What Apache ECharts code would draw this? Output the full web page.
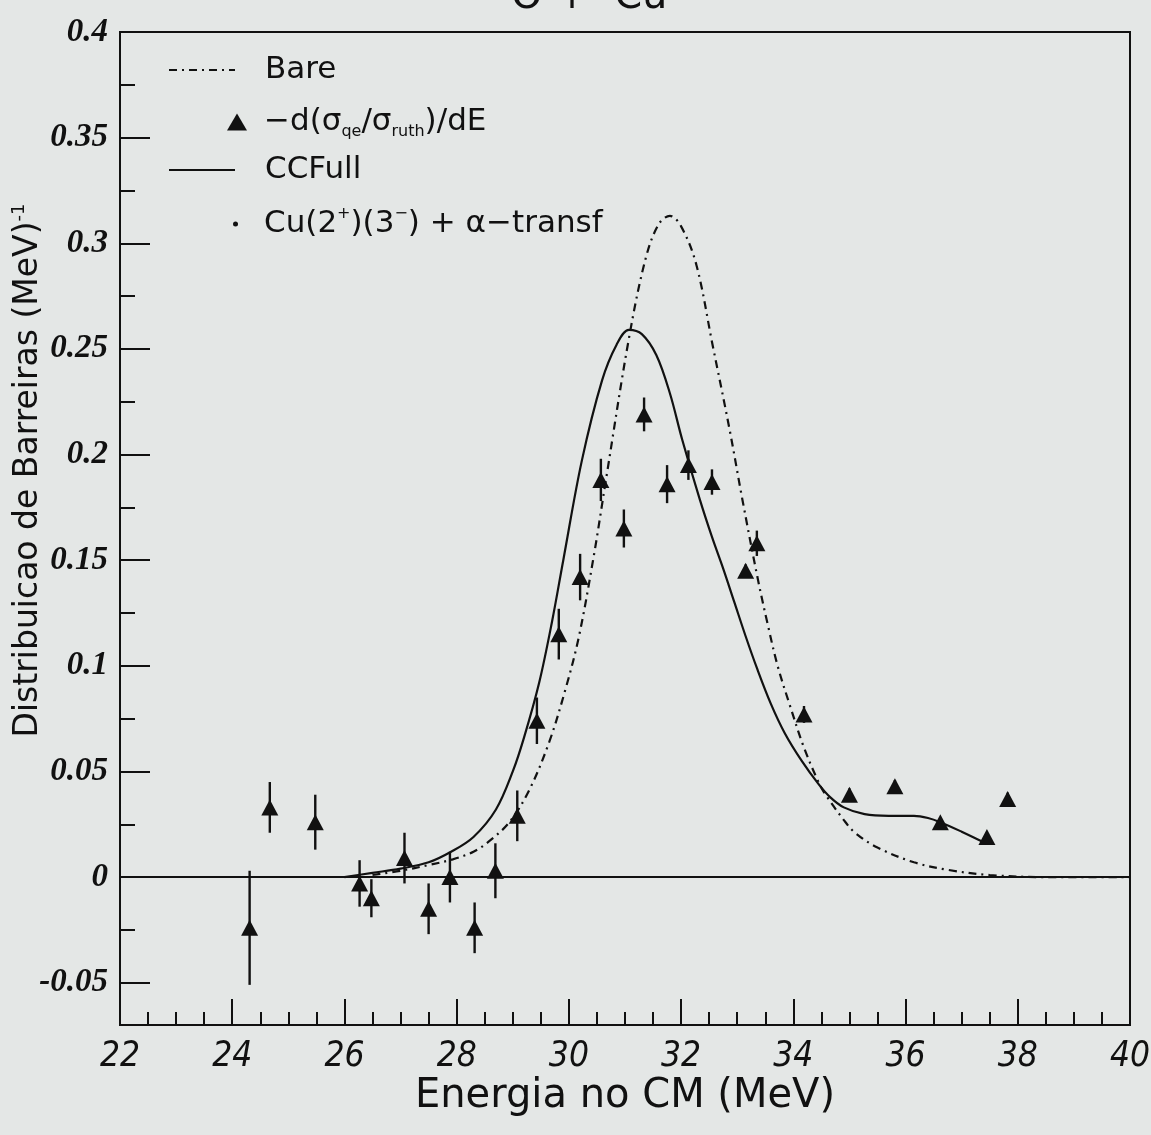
<!DOCTYPE html>
<html><head><meta charset="utf-8">
<script src="https://cdn.jsdelivr.net/npm/echarts@6/dist/echarts.min.js"></script>
<style>html,body{margin:0;padding:0;background:#e4e7e6}#c{width:1151px;height:1135px}</style>
</head><body><div id="c"></div>
<script>
// ---- data ----
const energy = [24.31, 24.67, 25.48, 26.27, 26.48, 27.07, 27.50, 27.88, 28.32, 28.69, 29.08, 29.43, 29.82, 30.20, 30.57, 30.98, 31.34, 31.75, 32.13, 32.55, 33.15, 33.35, 34.19, 35.00, 35.81, 36.62, 37.45, 37.82];
const barrierDist = [-0.024, 0.033, 0.026, -0.003, -0.010, 0.009, -0.015, 0.000, -0.024, 0.003, 0.029, 0.074, 0.115, 0.142, 0.188, 0.165, 0.219, 0.186, 0.195, 0.187, 0.145, 0.158, 0.077, 0.039, 0.043, 0.026, 0.019, 0.037];
const barrierErr = [0.027, 0.012, 0.013, 0.011, 0.009, 0.012, 0.012, 0.012, 0.012, 0.013, 0.012, 0.011, 0.012, 0.011, 0.010, 0.009, 0.008, 0.009, 0.007, 0.006, 0.003, 0.006, 0.004, 0.003, 0.003, 0.002, 0.002, 0.003];

const bareE = [26.5, 27.0, 27.5, 27.93, 28.3, 28.58, 28.94, 29.29, 29.65, 29.94, 30.18, 30.45, 30.66, 31.07, 31.37, 31.6, 31.8, 32.0, 32.27, 32.56, 32.87, 33.09, 33.36, 33.54, 33.72, 33.93, 34.18, 34.43, 34.55, 34.9, 35.1, 35.5, 36.15, 36.76, 37.5, 38.5, 40.0];
const bareD = [0.001, 0.003, 0.0057, 0.0084, 0.012, 0.017, 0.026, 0.041, 0.064, 0.089, 0.114, 0.153, 0.188, 0.255, 0.293, 0.309, 0.313, 0.308, 0.290, 0.252, 0.211, 0.179, 0.142, 0.120, 0.100, 0.082, 0.062, 0.046, 0.040, 0.027, 0.021, 0.014, 0.007, 0.0034, 0.001, 0.0, 0.0];

const ccE = [26.0, 26.5, 27.0, 27.5, 27.9, 28.3, 28.7, 29.0, 29.2, 29.47, 29.7, 29.9, 30.23, 30.59, 30.85, 31.07, 31.3, 31.56, 31.8, 32.02, 32.33, 32.55, 32.75, 32.95, 33.15, 33.35, 33.6, 33.85, 34.15, 34.45, 34.65, 34.9, 35.27, 35.7, 36.15, 36.4, 36.62, 37.0, 37.43];
const ccD = [0.000, 0.002, 0.004, 0.007, 0.012, 0.019, 0.032, 0.050, 0.066, 0.092, 0.121, 0.150, 0.197, 0.235, 0.252, 0.259, 0.257, 0.247, 0.229, 0.207, 0.179, 0.161, 0.146, 0.130, 0.114, 0.099, 0.082, 0.068, 0.055, 0.044, 0.038, 0.033, 0.0298, 0.029, 0.029, 0.028, 0.026, 0.0215, 0.016];

const zeroE = [22, 40];
const zeroD = [0, 0];

const yMajorTicks = [-0.05, 0, 0.05, 0.1, 0.15, 0.2, 0.25, 0.3, 0.35, 0.4];
const yMinorTicks = [-0.025, 0.025, 0.075, 0.125, 0.175, 0.225, 0.275, 0.325, 0.375];

const legendLabels = {
  'Bare': 'Bare',
  'exp': '−d(σ{sub|qe}/σ{sub|ruth})/dE',
  'CCFull': 'CCFull',
  'cu': 'Cu(2{sup|+})(3{sup|−}) + α−transf'
};

// ---- chart ----
const INK = '#111';
const SANS = '"DejaVu Sans", "Liberation Sans", sans-serif';
const NARROW = '"Liberation Sans Narrow", "DejaVu Sans Condensed", "Liberation Sans", sans-serif';
const legendText = {
  fontSize: 31, fontFamily: SANS, color: INK, lineHeight: 36,
  rich: {
    sub: {fontSize: 16, fontFamily: SANS, color: INK, lineHeight: 16, verticalAlign: 'bottom'},
    sup: {fontSize: 16, fontFamily: SANS, color: INK, lineHeight: 16, verticalAlign: 'top'}
  }
};
function mkLegend(name, left, top, w, h, pad, hideSymbol) {
  const l = {
    data: [name], left: left, top: top, itemWidth: w, itemHeight: h,
    formatter: n => legendLabels[n], selectedMode: false,
    textStyle: Object.assign({}, legendText, {padding: [0, 0, 0, pad]})
  };
  if (hideSymbol) l.itemStyle = {color: 'rgba(0,0,0,0)', borderColor: 'rgba(0,0,0,0)', borderWidth: 0};
  return l;
}

const chart = echarts.init(document.getElementById('c'), null, {renderer: 'canvas'});
chart.setOption({
  animation: false,
  backgroundColor: '#e4e7e6',
  title: {
    text: 'O +  Cu', left: 506, top: -27,
    textStyle: {fontSize: 40, fontWeight: 'normal', fontFamily: SANS, color: INK}
  },
  legend: [
    mkLegend('Bare', 163, 47, 66, 14, 25, true),
    mkLegend('exp', 222, 99, 20, 17, 12, false),
    mkLegend('CCFull', 163, 147, 66, 14, 25, true),
    mkLegend('cu', 228, 201, 5, 5, 21, false)
  ],
  grid: {left: 120, right: 21, top: 32, bottom: 110, outerBoundsMode: 'none', containLabel: false,
    show: true, borderColor: INK, borderWidth: 2, backgroundColor: 'transparent'},
  xAxis: {
    type: 'value', min: 22, max: 40, interval: 2,
    axisLine: {onZero: false, lineStyle: {color: INK, width: 2}},
    axisTick: {inside: true, length: 26, lineStyle: {color: INK, width: 2}},
    minorTick: {show: true, splitNumber: 4, length: 13, lineStyle: {color: INK, width: 2}},
    splitLine: {show: false},
    axisLabel: {fontSize: 35, fontStyle: 'italic', fontFamily: NARROW, color: INK, margin: 14},
    name: 'Energia no CM (MeV)', nameLocation: 'middle', nameGap: 52, nameMoveOverlap: false,
    nameTextStyle: {fontSize: 40, fontFamily: SANS, color: INK}
  },
  yAxis: [{
    type: 'value', min: -0.07, max: 0.4,
    axisLine: {lineStyle: {color: INK, width: 2}},
    axisTick: {inside: true, length: 30, customValues: yMajorTicks, lineStyle: {color: INK, width: 2}},
    splitLine: {show: false},
    axisLabel: {customValues: yMajorTicks, fontSize: 33, fontStyle: 'italic', fontWeight: 'bold',
      fontFamily: '"Liberation Serif", "DejaVu Serif", serif', color: INK, margin: 12,
      formatter: v => String(v)},
    name: 'Distribuicao de Barreiras (MeV){sup|-1}', nameLocation: 'middle', nameGap: 74, nameMoveOverlap: false,
    nameTextStyle: {fontSize: 33, fontFamily: SANS, color: INK, padding: [0, 0, 0, 116], lineHeight: 36,
      rich: {sup: {fontSize: 18, fontFamily: SANS, color: INK, lineHeight: 18, verticalAlign: 'top'}}}
  }, {
    type: 'value', min: -0.07, max: 0.4, position: 'left',
    axisLine: {show: false},
    axisTick: {inside: true, length: 15, customValues: yMinorTicks, lineStyle: {color: INK, width: 2}},
    axisLabel: {show: false}, splitLine: {show: false}
  }],
  series: [
    {
      name: 'zero', type: 'line', symbol: 'none', silent: true,
      data: zeroE.map((e, i) => [e, zeroD[i]]),
      lineStyle: {color: INK, width: 2}
    },
    {
      name: 'Bare', type: 'line', symbol: 'none', smooth: 0.35,
      data: bareE.map((e, i) => [e, bareD[i]]),
      color: INK, lineStyle: {color: INK, width: 2.2, type: [8, 5, 2, 5]}
    },
    {
      name: 'CCFull', type: 'line', symbol: 'none', smooth: 0.35,
      data: ccE.map((e, i) => [e, ccD[i]]),
      color: INK, lineStyle: {color: INK, width: 2.2}
    },
    {
      name: 'errbar', type: 'custom',
      data: energy.map((e, i) => [e, barrierDist[i] - barrierErr[i], barrierDist[i] + barrierErr[i]]),
      encode: {x: 0, y: [1, 2]},
      renderItem: function (params, api) {
        const p1 = api.coord([api.value(0), api.value(1)]);
        const p2 = api.coord([api.value(0), api.value(2)]);
        return {type: 'line', shape: {x1: p1[0], y1: p1[1], x2: p2[0], y2: p2[1]},
          style: {stroke: INK, lineWidth: 2.4}};
      }
    },
    {
      name: 'exp', type: 'scatter', symbol: 'triangle', symbolSize: [17, 16],
      data: energy.map((e, i) => [e, barrierDist[i]]),
      itemStyle: {color: INK, opacity: 1}
    },
    {
      name: 'cu', type: 'scatter', symbol: 'circle', symbolSize: 4,
      data: [], itemStyle: {color: INK, opacity: 1}
    }
  ]
});
</script>
</body></html>
